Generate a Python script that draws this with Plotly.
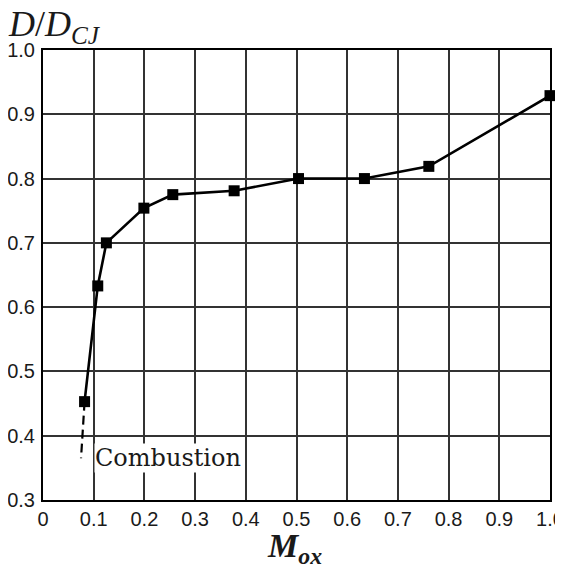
import plotly.graph_objects as go

# Data
m_ox = [0.082, 0.108, 0.125, 0.199, 0.256, 0.377, 0.504, 0.634, 0.761, 1.0]
d_ratio = [0.453, 0.633, 0.700, 0.754, 0.775, 0.781, 0.800, 0.800, 0.819, 0.929]

# dashed extension toward combustion regime
ext_x = [0.082, 0.075]
ext_y = [0.453, 0.365]

x_ticks = [0, 0.1, 0.2, 0.3, 0.4, 0.5, 0.6, 0.7, 0.8, 0.9, 1.0]
x_labels = ["0", "0.1", "0.2", "0.3", "0.4", "0.5", "0.6", "0.7", "0.8", "0.9", "1.0"]
y_ticks = [0.3, 0.4, 0.5, 0.6, 0.7, 0.8, 0.9, 1.0]
y_labels = ["0.3", "0.4", "0.5", "0.6", "0.7", "0.8", "0.9", "1.0"]

fig = go.Figure()
fig.add_trace(go.Scatter(x=ext_x, y=ext_y, mode="lines",
                         line=dict(color="black", width=2.2, dash="9px,5px"),
                         showlegend=False, hoverinfo="skip"))
fig.add_trace(go.Scatter(x=m_ox, y=d_ratio, mode="lines+markers",
                         line=dict(color="black", width=2.6),
                         marker=dict(symbol="square", size=11, color="black"),
                         showlegend=False, cliponaxis=False))

fig.add_annotation(x=0.1, y=0.365, xref="x", yref="y", text="Combustion",
                   showarrow=False, xanchor="left", yanchor="middle",
                   font=dict(family="DejaVu Serif", size=24, color="#1a1a1a"),
                   bgcolor="white", borderpad=0)

fig.add_annotation(x=-0.072, y=1.0, xref="paper", yref="paper", yanchor="bottom", xanchor="left",
                   text="<i>D</i>/<i>D</i><sub><i>CJ</i></sub>", showarrow=False, yshift=-1,
                   font=dict(family="Liberation Serif", size=36, color="#1a1a1a"))

fig.add_annotation(x=0.497, y=-0.107, xref="paper", yref="paper", yanchor="middle", xanchor="center",
                   text="<b><i>M</i></b><sub><b><i>ox</i></b></sub>", showarrow=False,
                   font=dict(family="Liberation Serif", size=34, color="#1a1a1a"))

fig.update_xaxes(range=[0, 1.0], tickvals=x_ticks, ticktext=x_labels,
                 showgrid=True, gridcolor="#333", gridwidth=1.6,
                 showline=True, linecolor="black", linewidth=2, mirror=True,
                 zeroline=False, ticks="", automargin=False, ticklabeloverflow="allow",
                 tickfont=dict(family="Liberation Sans, Arial", size=20, color="#1a1a1a"))
fig.update_yaxes(range=[0.3, 1.0], tickvals=y_ticks, ticktext=y_labels,
                 showgrid=True, gridcolor="#333", gridwidth=1.6,
                 showline=True, linecolor="black", linewidth=2, mirror=True,
                 zeroline=False, ticks="", automargin=False, ticklabelstandoff=2,
                 ticklabeloverflow="allow",
                 tickfont=dict(family="Liberation Sans, Arial", size=20, color="#1a1a1a"))

fig.update_layout(width=563, height=559,
                  margin=dict(l=35, r=21, t=42, b=67),
                  plot_bgcolor="white", paper_bgcolor="white")

fig.write_html("out.html")
